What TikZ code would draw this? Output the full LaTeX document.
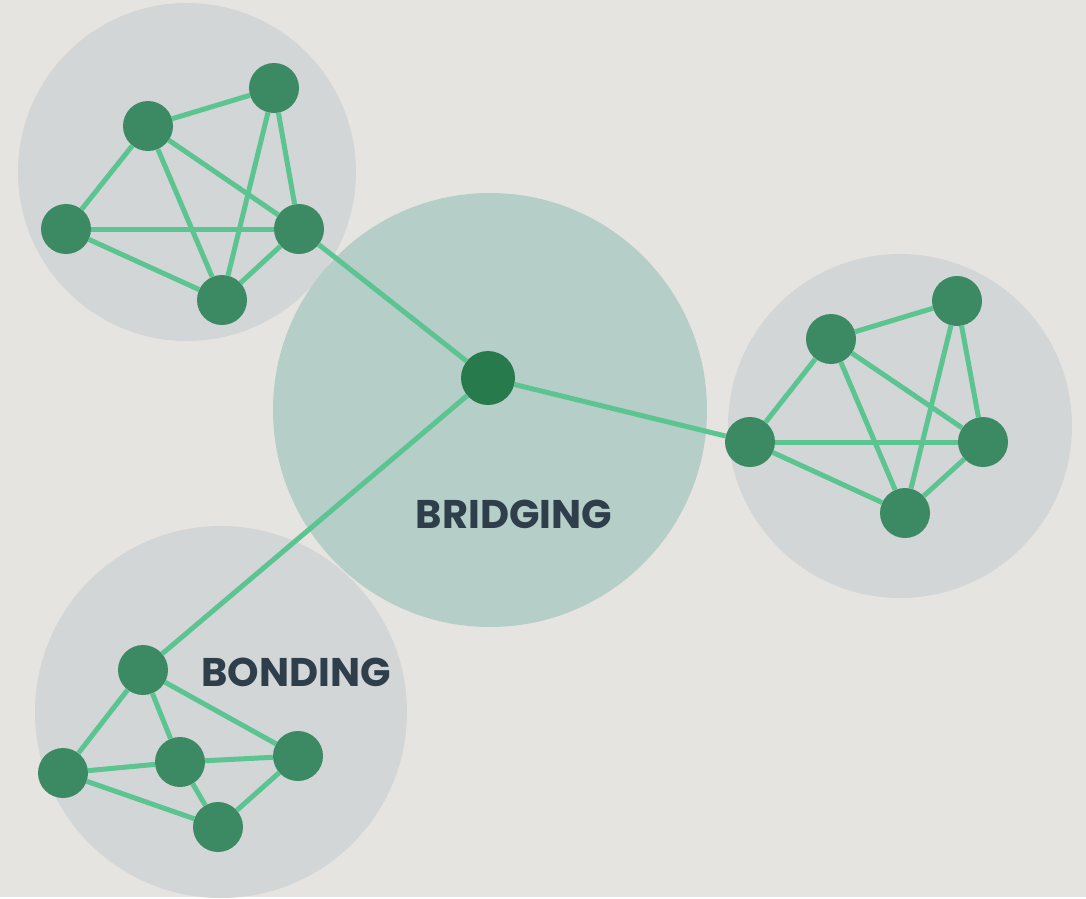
\documentclass[tikz,border=0pt]{standalone}
\usepackage{fontspec}
\setmainfont{Poppins}
\definecolor{paper}{HTML}{E6E4E0}
\definecolor{cloud}{HTML}{D3D6D6}
\definecolor{bridge}{HTML}{B5CEC8}
\definecolor{member}{HTML}{3B8A63}
\definecolor{broker}{HTML}{267A4C}
\definecolor{tie}{HTML}{5BC490}
\definecolor{ink}{HTML}{2E3E4B}
\begin{document}
\begin{tikzpicture}[y=-1pt, x=1pt, font=\bfseries\fontsize{40}{40}\selectfont,
    member/.style={circle, fill=member, minimum size=50pt, inner sep=0pt},
    broker/.style={circle, fill=broker, minimum size=54pt, inner sep=0pt},
    tie/.style={draw=tie, line width=5pt},
    label/.style={text=ink, inner sep=0pt}]
    % background
    \fill[paper] (0,0) rectangle (1086,897);
    % groups
    \fill[cloud] (187,172) circle (169pt);
    \fill[cloud] (900,426) circle (172pt);
    \fill[cloud] (221,712) circle (186pt);
    \fill[bridge] (490,410) circle (217pt);
    % people
    \node[broker] (hub) at (488,378) {};
    \foreach \n/\x/\y in {a/148/126, b/274/88, c/66/229, d/299/229, e/222/300} {
      \node[member] (top\n) at (\x,\y) {};
    }
    \foreach \n/\x/\y in {a/831/339, b/957/301, c/750/442, d/983/442, e/905/513} {
      \node[member] (right\n) at (\x,\y) {};
    }
    \foreach \n/\x/\y in {a/143/670, b/180/762, c/63/773, d/298/756, e/218/827} {
      \node[member] (low\n) at (\x,\y) {};
    }
    % ties inside the groups
    \foreach \g in {top, right} {
      \foreach \s/\t in {a/b, a/c, a/d, a/e, b/d, b/e, c/d, c/e, d/e} {
        \draw[tie] (\g\s) -- (\g\t);
      }
    }
    \foreach \s/\t in {a/b, a/c, a/d, b/c, b/d, b/e, c/e, d/e} {
      \draw[tie] (low\s) -- (low\t);
    }
    % ties through the broker
    \draw[tie] (hub) -- (topd);
    \draw[tie] (hub) -- (rightc);
    \draw[tie] (hub) -- (lowa);
    % labels
    \node[label] (bridging) at (514,514) {BRIDGING};
    \node[label] (bonding) at (296,672) {BONDING};
  \end{tikzpicture}
\end{document}
